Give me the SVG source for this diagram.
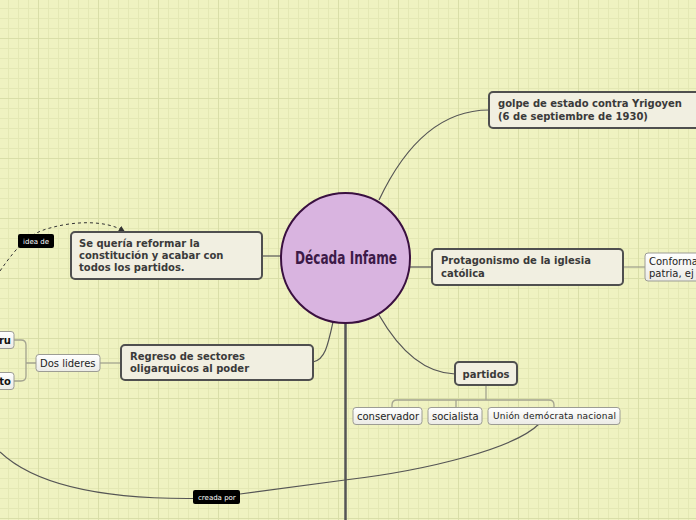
<svg xmlns="http://www.w3.org/2000/svg" width="696" height="520" viewBox="0 0 696 520">
<defs>
<pattern id="grid" x="8" y="8" width="60" height="60" patternUnits="userSpaceOnUse">
<path d="M0.5 0V60M10.5 0V60M20.5 0V60M40.5 0V60M50.5 0V60M0 0.5H60M0 10.5H60M0 20.5H60M0 40.5H60M0 50.5H60" stroke="#e4e8b4" stroke-width="1" fill="none"/>
<path d="M30.5 0V60M0 30.5H60" stroke="#d9dea8" stroke-width="1" fill="none"/>
</pattern>
<linearGradient id="sub" x1="0" y1="0" x2="0" y2="1">
<stop offset="0" stop-color="#ffffff"/>
<stop offset="1" stop-color="#ebebe6"/>
</linearGradient>
<marker id="arr" viewBox="0 0 6 6" refX="5" refY="3" markerWidth="6" markerHeight="6" orient="auto" markerUnits="userSpaceOnUse">
<path d="M0 0L6 3L0 6Z" fill="#333"/>
</marker>
<style>
.main{fill:#f1efe1;stroke:#4f4f4f;stroke-width:2}
.subn{fill:url(#sub);stroke:#9c9c94;stroke-width:1}
.bt{font-family:"DejaVu Sans",Verdana,sans-serif;font-weight:bold;font-size:10px;fill:#3a3a3a}
.nt{font-family:"DejaVu Sans",Verdana,sans-serif;font-size:10px;fill:#222}
.con{fill:none;stroke:#555;stroke-width:1.2}
.lcon{fill:none;stroke:#a3a38f;stroke-width:1.3}
.lab{fill:#000}
.lt{font-family:"DejaVu Sans",Verdana,sans-serif;font-size:7px;fill:#fff}
</style>
</defs>
<rect width="696" height="520" fill="#eff2c1"/>
<rect width="696" height="520" fill="url(#grid)"/>

<g id="connectors">
<path class="con" d="M379,200 C405,145 440,110 489,110"/>
<path class="con" d="M410,267 H432"/>
<path class="con" d="M281,256 H262"/>
<path class="con" d="M333,322 C328,345 325,360 313,362"/>
<path class="con" d="M379,315 C398,348 422,373 455,374"/>
<path d="M345.5,323 V520" fill="none" stroke="#555" stroke-width="2.5"/>
<path class="lcon" d="M623,267 H645"/>
<path class="lcon" d="M121,363 H100"/>
<path class="lcon" d="M36,363 H26 M14,340 H21 Q26,340 26,345 V376 Q26,381 21,381 H14"/>
<path class="lcon" d="M486,385 V400 M392,407 V405 Q392,400 397,400 H549 Q554,400 554,405 V407 M456,400 V407" stroke="#999988"/>
<path class="con" d="M539,424 C515,448 430,470 345,480 C300,486 270,490 240,494"/>
<path class="con" d="M193,498.5 C120,499 40,490 0,452"/>
<path d="M0,271 C18,245 30,233 50,228 C75,221 105,220 124,231" fill="none" stroke="#333" stroke-width="1" stroke-dasharray="3,3" marker-end="url(#arr)"/>
</g>

<g id="center">
<ellipse cx="345.5" cy="258" rx="64.5" ry="65" fill="#d9b4e0" stroke="#3a1040" stroke-width="2"/>
<text x="346" y="264" text-anchor="middle" font-family="'DejaVu Sans Condensed','DejaVu Sans',sans-serif" font-weight="bold" font-size="18" fill="#3c1a48" textLength="102" lengthAdjust="spacingAndGlyphs">Década Infame</text>
</g>

<g id="golpe">
<rect class="main" x="489" y="92" width="230" height="36" rx="4"/>
<text class="bt" x="498" y="107">golpe de estado contra Yrigoyen</text>
<text class="bt" x="498" y="120">(6 de septiembre de 1930)</text>
</g>

<g id="protagonismo">
<rect class="main" x="432" y="249" width="191" height="36" rx="4"/>
<text class="bt" x="441" y="264">Protagonismo de la iglesia</text>
<text class="bt" x="441" y="277">católica</text>
</g>

<g id="conforma">
<rect class="subn" x="645" y="253" width="80" height="28" rx="3"/>
<text class="nt" x="649" y="265">Conforma</text>
<text class="nt" x="649" y="277">patria, ej</text>
</g>

<g id="reforma">
<rect class="main" x="71" y="232" width="191" height="47" rx="4"/>
<text class="bt" x="79" y="247">Se quería reformar la</text>
<text class="bt" x="79" y="259">constitución y acabar con</text>
<text class="bt" x="79" y="271">todos los partidos.</text>
</g>

<g id="regreso">
<rect class="main" x="121" y="345" width="192" height="35" rx="4"/>
<text class="bt" x="130" y="360">Regreso de sectores</text>
<text class="bt" x="130" y="372">oligarquicos al poder</text>
</g>

<g id="dos-lideres">
<rect class="subn" x="36" y="354.5" width="64" height="17" rx="3"/>
<text class="nt" x="40" y="367">Dos lideres</text>
</g>

<g id="ru">
<rect class="subn" x="-20" y="331.5" width="34" height="17" rx="3"/>
<text class="bt" x="11" y="344" text-anchor="end" style="fill:#111">ru</text>
</g>

<g id="to">
<rect class="subn" x="-20" y="372.5" width="34" height="17" rx="3"/>
<text class="bt" x="11" y="385" text-anchor="end" style="fill:#111">to</text>
</g>

<g id="partidos">
<rect class="main" x="455" y="362" width="62" height="23" rx="4"/>
<text class="bt" x="486" y="378" text-anchor="middle">partidos</text>
</g>

<g id="conservador">
<rect class="subn" x="353" y="407.5" width="69" height="17" rx="3"/>
<text class="nt" x="357" y="420">conservador</text>
</g>

<g id="socialista">
<rect class="subn" x="428" y="407.5" width="54" height="17" rx="3"/>
<text class="nt" x="432" y="420">socialista</text>
</g>

<g id="union">
<rect class="subn" x="488" y="407.5" width="132" height="17" rx="3"/>
<text class="nt" x="493" y="419" style="font-size:9px;letter-spacing:0.2px">Unión demócrata nacional</text>
</g>

<g id="idea-de">
<rect class="lab" x="18" y="234" width="36" height="14" rx="2"/>
<text class="lt" x="23" y="243.5">idea de</text>
</g>

<g id="creada-por">
<rect class="lab" x="193" y="490" width="47" height="14" rx="2"/>
<text class="lt" x="198" y="499.5">creada por</text>
</g>
</svg>
